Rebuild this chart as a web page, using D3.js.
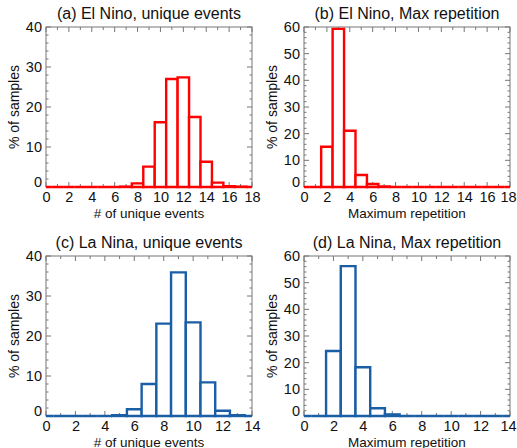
<!DOCTYPE html>
<html>
<head>
<meta charset="utf-8">
<script src="https://cdn.jsdelivr.net/npm/d3@7"></script>
<style>
  body { margin: 0; background: #fff; }
  svg { display: block; font-family: "Liberation Sans", Arial, sans-serif; }
</style>
</head>
<body>
<svg id="chart" width="517" height="448"></svg>
<script>
// histogram values (% of samples), one per integer bin
var elNinoUniqueBins = d3.range(0, 19);
var elNinoUnique = [0, 0, 0, 0, 0, 0, 0, 0.1, 0.9, 5.1, 16.2, 27.0, 27.4, 17.5, 6.3, 1.1, 0.2, 0.1, 0];
var elNinoRepBins = d3.range(0, 19);
var elNinoRep = [0, 0, 15.1, 59.3, 21.1, 4.5, 1.1, 0.2, 0, 0, 0, 0, 0, 0, 0, 0, 0, 0, 0];
var laNinaUniqueBins = d3.range(0, 15);
var laNinaUnique = [0, 0, 0, 0, 0, 0.2, 1.7, 8.0, 23.1, 35.9, 23.4, 8.4, 1.3, 0.2, 0];
var laNinaRepBins = d3.range(0, 15);
var laNinaRep = [0, 0, 24.4, 56.2, 18.3, 2.9, 0.6, 0, 0, 0, 0, 0, 0, 0, 0];

var xTicks18 = d3.range(0, 19, 2);
var xTicks14 = d3.range(0, 15, 2);
var yTicks40 = [0, 10, 20, 30, 40];
var yTicks60 = [0, 10, 20, 30, 40, 50, 60];

var red = "#ff0000", blue = "#1a5ea6";

var panels = [
  {title: "(a) El Nino, unique events", xlab: "# of unique events", bins: elNinoUniqueBins, vals: elNinoUnique,
   xmax: 18, xticks: xTicks18, ymax: 40, yticks: yTicks40, color: red, left: 46, top: 27},
  {title: "(b) El Nino, Max repetition", xlab: "Maximum repetition", bins: elNinoRepBins, vals: elNinoRep,
   xmax: 18, xticks: xTicks18, ymax: 60, yticks: yTicks60, color: red, left: 304, top: 27},
  {title: "(c) La Nina, unique events", xlab: "# of unique events", bins: laNinaUniqueBins, vals: laNinaUnique,
   xmax: 14, xticks: xTicks14, ymax: 40, yticks: yTicks40, color: blue, left: 46, top: 256},
  {title: "(d) La Nina, Max repetition", xlab: "Maximum repetition", bins: laNinaRepBins, vals: laNinaRep,
   xmax: 14, xticks: xTicks14, ymax: 60, yticks: yTicks60, color: blue, left: 304, top: 256}
];

var W = 206, H = 160;
var svg = d3.select("#chart");

panels.forEach(function(p) {
  var g = svg.append("g").attr("transform", "translate(" + p.left + "," + p.top + ")");
  var x = d3.scaleLinear().domain([0, p.xmax]).range([0, W]);
  var y = d3.scaleLinear().domain([0, p.ymax]).range([H, 0]);

  // box
  g.append("rect").attr("width", W).attr("height", H)
    .attr("fill", "none").attr("stroke", "#777").attr("stroke-width", 1);

  // ticks, pointing inward on all four sides
  var xminor = d3.range(0, p.xmax + 1, 1);
  var ystep = p.ymax / ((p.yticks.length - 1) * 5);
  var yminor = d3.range(0, p.ymax + 0.001, ystep);
  var tk = g.append("g").attr("stroke", "#777").attr("stroke-width", 1);
  xminor.forEach(function(v) {
    var len = (v % 2 === 0) ? 5 : 3;
    tk.append("line").attr("x1", x(v)).attr("x2", x(v)).attr("y1", 0).attr("y2", len);
    tk.append("line").attr("x1", x(v)).attr("x2", x(v)).attr("y1", H).attr("y2", H - len);
  });
  yminor.forEach(function(v, i) {
    var len = (i % 5 === 0) ? 5 : 2.5;
    tk.append("line").attr("y1", y(v)).attr("y2", y(v)).attr("x1", 0).attr("x2", len);
    tk.append("line").attr("y1", y(v)).attr("y2", y(v)).attr("x1", W).attr("x2", W - len);
  });

  // tick labels via d3 axes (lines hidden, the box ticks are drawn above)
  var xa = g.append("g").attr("transform", "translate(0," + H + ")")
    .call(d3.axisBottom(x).tickValues(p.xticks).tickSize(0).tickPadding(5));
  var ya = g.append("g")
    .call(d3.axisLeft(y).tickValues(p.yticks).tickSize(0).tickPadding(4));
  [xa, ya].forEach(function(a) {
    a.select(".domain").remove();
    a.selectAll("text").attr("font-size", 14.5).attr("fill", "#111")
      .attr("font-family", "Liberation Sans, Arial, sans-serif");
  });
  ya.selectAll(".tick text").filter(function(d) { return d === 0; }).attr("dy", "-0.02em");
  // keep the last label inside the page on the right column
  if (p.left > 200) {
    xa.selectAll(".tick text").filter(function(d) { return d === p.xmax; }).attr("dx", -2);
  }

  // bars as outlined steps, so empty bins show as a line on the base
  g.append("g").selectAll("path.bar")
    .data(p.bins.map(function(b, i) { return {b: b, v: p.vals[i]}; }))
    .enter().append("path")
    .attr("class", "bar")
    .attr("d", function(d) {
      var x0 = x(Math.max(0, d.b - 0.5)), x1 = x(Math.min(p.xmax, d.b + 0.5));
      return "M" + x0 + "," + y(0) + "V" + y(d.v) + "H" + x1 + "V" + y(0) + "Z";
    })
    .attr("fill", "#fff").attr("stroke", p.color).attr("stroke-width", 2.4)
    .attr("stroke-linejoin", "miter");

  // titles and axis labels
  g.append("text").attr("x", W / 2).attr("y", -8).attr("text-anchor", "middle")
    .attr("font-size", 16).attr("fill", "#111").text(p.title);
  g.append("text").attr("x", W / 2).attr("y", H + 30.5).attr("text-anchor", "middle")
    .attr("font-size", 13.5).attr("fill", "#111").text(p.xlab);
  g.append("text").attr("transform", "translate(" + (-27) + "," + (H / 2) + ") rotate(-90)")
    .attr("text-anchor", "middle").attr("font-size", 14).attr("fill", "#111").text("% of samples");
});
</script>
</body>
</html>
